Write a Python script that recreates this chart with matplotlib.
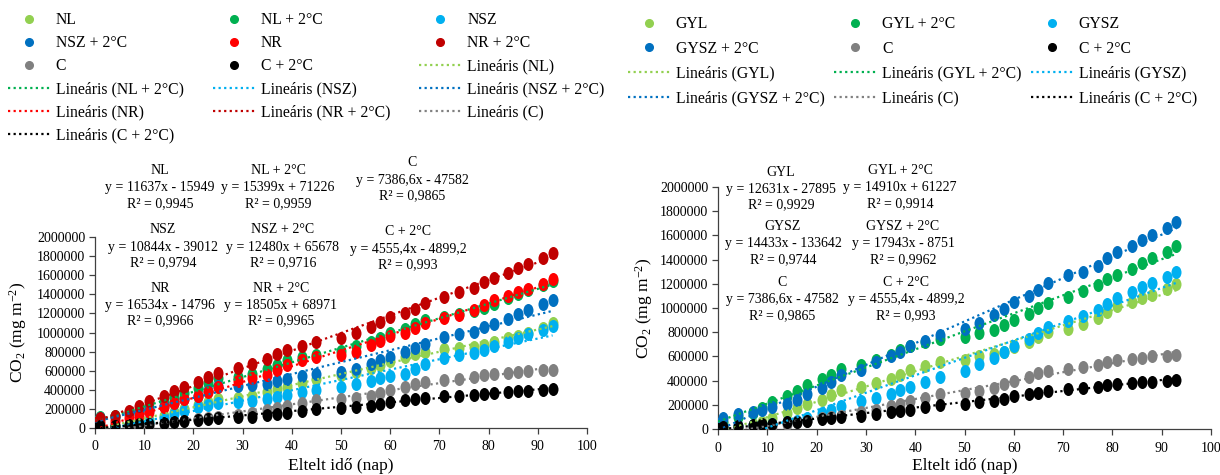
import matplotlib
matplotlib.use("Agg")
import matplotlib.pyplot as plt
from matplotlib.lines import Line2D
from matplotlib.markers import MarkerStyle
from matplotlib.transforms import Affine2D
from matplotlib.ticker import MultipleLocator, FuncFormatter
import numpy as np

plt.rcParams['font.family'] = ['Liberation Serif', 'DejaVu Serif']
plt.rcParams['mathtext.fontset'] = 'custom'
plt.rcParams['mathtext.rm'] = 'Liberation Serif'
plt.rcParams['mathtext.it'] = 'Liberation Serif:italic'

# sampling days (both panels)
days = [0, 1, 4, 7, 9, 11, 14, 16, 18, 21, 23, 25, 29, 32, 35, 37, 39, 42, 45,
        50, 53, 56, 58, 60, 63, 65, 67, 71, 74, 77, 79, 81, 84, 86, 88, 91, 93]

# left panel, cumulative CO2 (mg m-2)
nl = [5000, 20000, 30000, 40000, 60000, 80000, 130000, 170000, 200000, 240000, 270000, 300000,
      310000, 340000, 380000, 410000, 430000, 470000, 510000, 550000, 590000, 630000, 660000,
      700000, 740000, 770000, 800000, 830000, 840000, 850000, 870000, 900000, 940000, 960000,
      1000000, 1050000, 1100000]
nl_2 = [60000, 110000, 130000, 160000, 190000, 220000, 280000, 320000, 370000, 420000, 470000,
        520000, 530000, 570000, 620000, 660000, 710000, 740000, 760000, 810000, 860000, 900000,
        940000, 990000, 1040000, 1090000, 1130000, 1160000, 1190000, 1220000, 1260000, 1300000,
        1360000, 1400000, 1440000, 1500000, 1540000]
nsz = [10000, 100000, 20000, 30000, 40000, 60000, 100000, 150000, 180000, 220000, 240000, 260000,
       270000, 280000, 300000, 320000, 350000, 380000, 400000, 430000, 460000, 490000, 520000,
       540000, 570000, 620000, 670000, 730000, 760000, 790000, 820000, 860000, 900000, 940000,
       980000, 1030000, 1070000]
nsz_2 = [40000, 100000, 120000, 150000, 170000, 190000, 230000, 260000, 300000, 340000, 390000,
         440000, 440000, 450000, 460000, 490000, 510000, 540000, 570000, 590000, 620000, 670000,
         710000, 740000, 800000, 840000, 880000, 950000, 980000, 1010000, 1060000, 1090000,
         1140000, 1190000, 1240000, 1300000, 1340000]
nr = [10000, 60000, 70000, 100000, 130000, 170000, 220000, 260000, 300000, 330000, 380000, 430000,
      490000, 520000, 560000, 610000, 660000, 710000, 740000, 760000, 800000, 870000, 910000,
      960000, 990000, 1050000, 1100000, 1150000, 1180000, 1240000, 1290000, 1340000, 1380000,
      1420000, 1460000, 1510000, 1560000]
nr_2 = [50000, 100000, 130000, 180000, 230000, 280000, 330000, 390000, 430000, 480000, 530000,
        580000, 630000, 670000, 720000, 780000, 820000, 860000, 900000, 940000, 1000000, 1060000,
        1110000, 1160000, 1200000, 1250000, 1310000, 1370000, 1420000, 1470000, 1530000, 1570000,
        1620000, 1680000, 1720000, 1780000, 1830000]
c = [0, 5000, 10000, 15000, 20000, 25000, 40000, 60000, 70000, 90000, 100000, 110000, 140000,
     160000, 190000, 210000, 230000, 260000, 290000, 300000, 310000, 340000, 370000, 400000,
     430000, 460000, 480000, 500000, 510000, 530000, 550000, 570000, 580000, 590000, 600000,
     605000, 610000]
c_2 = [0, 20000, 25000, 30000, 40000, 45000, 55000, 60000, 70000, 85000, 90000, 100000, 110000,
       120000, 140000, 150000, 160000, 180000, 200000, 210000, 220000, 230000, 250000, 270000,
       290000, 300000, 310000, 330000, 340000, 350000, 360000, 370000, 380000, 385000, 390000,
       400000, 405000]

# right panel
gyl = [5000, 10000, 20000, 30000, 60000, 90000, 130000, 170000, 210000, 240000, 280000, 320000,
       350000, 380000, 410000, 450000, 490000, 520000, 550000, 570000, 600000, 620000, 640000,
       680000, 720000, 760000, 800000, 830000, 870000, 920000, 970000, 1020000, 1050000, 1080000,
       1110000, 1160000, 1200000]
gyl_2 = [30000, 60000, 100000, 130000, 170000, 220000, 270000, 310000, 360000, 410000, 450000,
         500000, 530000, 570000, 610000, 650000, 690000, 720000, 740000, 760000, 790000, 820000,
         860000, 900000, 950000, 1000000, 1040000, 1090000, 1140000, 1190000, 1240000, 1270000,
         1320000, 1370000, 1410000, 1460000, 1510000]
gysz = [10000, 20000, 25000, 30000, 35000, 40000, 60000, 70000, 90000, 130000, 160000, 190000,
        230000, 260000, 290000, 320000, 350000, 390000, 430000, 480000, 540000, 590000, 640000,
        690000, 740000, 790000, 840000, 890000, 930000, 980000, 1030000, 1080000, 1130000,
        1170000, 1210000, 1260000, 1300000]
gysz_2 = [40000, 90000, 120000, 140000, 160000, 180000, 210000, 240000, 290000, 340000, 390000,
          450000, 490000, 550000, 600000, 640000, 690000, 730000, 780000, 830000, 880000, 940000,
          990000, 1050000, 1100000, 1150000, 1210000, 1270000, 1300000, 1350000, 1410000, 1460000,
          1510000, 1560000, 1600000, 1660000, 1710000]

# linear trend lines (slope, intercept, R2) as printed on the chart
left_names = ['NL', 'NL + 2°C', 'NSZ', 'NSZ + 2°C', 'NR', 'NR + 2°C', 'C', 'C + 2°C']
left_series = [nl, nl_2, nsz, nsz_2, nr, nr_2, c, c_2]
left_slope = [11637, 15399, 10844, 12480, 16534, 18505, 7386.6, 4555.4]
left_icpt = [-15949, 71226, -39012, 65678, -14796, 68971, -47582, -4899.2]
left_r2 = ['0,9945', '0,9959', '0,9794', '0,9716', '0,9966', '0,9965', '0,9865', '0,993']
left_eq = ['11637x - 15949', '15399x + 71226', '10844x - 39012', '12480x + 65678',
           '16534x - 14796', '18505x + 68971', '7386,6x - 47582', '4555,4x - 4899,2']

right_names = ['GYL', 'GYL + 2°C', 'GYSZ', 'GYSZ + 2°C', 'C', 'C + 2°C']
right_series = [gyl, gyl_2, gysz, gysz_2, c, c_2]
right_slope = [12631, 14910, 14433, 17943, 7386.6, 4555.4]
right_icpt = [-27895, 61227, -133642, -8751, -47582, -4899.2]
right_r2 = ['0,9929', '0,9914', '0,9744', '0,9962', '0,9865', '0,993']
right_eq = ['12631x - 27895', '14910x + 61227', '14433x - 133642', '17943x - 8751',
            '7386,6x - 47582', '4555,4x - 4899,2']

left_colors = ['#92D050', '#00B050', '#00B0F0', '#0070C0', '#FF0000', '#C00000', '#808080', '#000000']
right_colors = ['#92D050', '#00B050', '#00B0F0', '#0070C0', '#808080', '#000000']

# label block centres in pixels (x, y of first line)
left_lbl_pos = [(160, 171), (278, 171), (163, 230), (283, 230), (160, 288), (281, 288), (412, 163), (408, 232)]
right_lbl_pos = [(781, 172), (900, 171), (783, 227), (903, 227), (782, 283), (906, 283)]

W, H = 1220, 475
DOTS = (0, (1, 1.5))
# Excel points look slightly taller than wide (overlapping replicates)
BLOB = MarkerStyle('o', transform=Affine2D().scale(1.0, 1.3))


def px(x, y):
    return x / W, 1 - y / H


def panel(ax, series, colors, slopes, icpts, ymax_px, y0_px):
    for vals, col in zip(series, colors):
        ax.scatter(days, vals, s=52, marker=BLOB, color=col, zorder=3, linewidths=0)
    xs = np.array([days[0], days[-1]])
    for col, k, b in zip(colors, slopes, icpts):
        ax.plot(xs, k * xs + b, color=col, linestyle=DOTS, lw=1.6, zorder=4)
    ax.set_xlim(0, 100)
    ax.set_ylim(0, 2000000)
    ax.xaxis.set_major_locator(MultipleLocator(10))
    ax.yaxis.set_major_locator(MultipleLocator(200000))
    ax.yaxis.set_major_formatter(FuncFormatter(lambda v, p: '%d' % v))
    for s in ['top', 'right']:
        ax.spines[s].set_visible(False)
    for s in ['left', 'bottom']:
        ax.spines[s].set_color('#404040')
        ax.spines[s].set_linewidth(0.9)
    ax.tick_params(direction='out', length=4, width=0.9, color='#404040', labelsize=10)
    ax.tick_params(axis='x', pad=5)
    ax.tick_params(axis='y', pad=3)
    ax.set_xlabel('Eltelt idő (nap)', fontsize=12.5)
    ax.set_ylabel(r'CO$_2$ (mg m$^{-2}$)', fontsize=12.5)
    hgt = y0_px - ymax_px
    ax.xaxis.label.set_va('center')
    ax.xaxis.set_label_coords(0.5, (y0_px - 466) / hgt)
    ax.yaxis.label.set_va('center')


def legend(fig, names, colors, anchor, colsp, labsp):
    marks = [Line2D([], [], marker='o', ls='none', color=col, markersize=5.5) for col in colors]
    lines = [Line2D([], [], color=col, ls=DOTS, lw=1.6) for col in colors]
    handles = marks + lines
    labels = names + ['Lineáris (%s)' % n for n in names]
    n = len(handles)
    ncol = 3
    order = [i for col in range(ncol) for i in range(col, n, ncol)]
    fig.legend([handles[i] for i in order], [labels[i] for i in order], ncol=ncol,
               loc='upper left', bbox_to_anchor=anchor, frameon=False, fontsize=11.3,
               borderpad=0, borderaxespad=0, handlelength=2.7, handletextpad=0.35,
               columnspacing=colsp, labelspacing=labsp)


def labels(fig, names, eqs, r2s, pos):
    for nm, eq, r2, (x, y) in zip(names, eqs, r2s, pos):
        fig.text(*px(x, y), nm, ha='center', va='center', fontsize=10)
        fig.text(*px(x, y + 17), 'y = ' + eq, ha='center', va='center', fontsize=10)
        fig.text(*px(x, y + 33), 'R² = ' + r2, ha='center', va='center', fontsize=10)


fig = plt.figure(figsize=(12.2, 4.75), dpi=100)

axl = fig.add_axes([95 / W, 1 - 428 / H, (587 - 95) / W, (428 - 237) / H])
panel(axl, left_series, left_colors, left_slope, left_icpt, 237, 428)
axl.yaxis.set_label_coords((18 - 95) / 492, 0.5)

axr = fig.add_axes([718 / W, 1 - 429 / H, (1211 - 718) / W, (429 - 187) / H])
panel(axr, right_series, right_colors, right_slope, right_icpt, 187, 429)
axr.yaxis.set_label_coords((644 - 718) / 493, 0.5)

legend(fig, left_names, left_colors, px(8, 12), 1.85, 0.45)
legend(fig, right_names, right_colors, px(628, 16), 0.6, 0.56)

labels(fig, left_names, left_eq, left_r2, left_lbl_pos)
labels(fig, right_names, right_eq, right_r2, right_lbl_pos)

fig.savefig('out.png', dpi=100)
